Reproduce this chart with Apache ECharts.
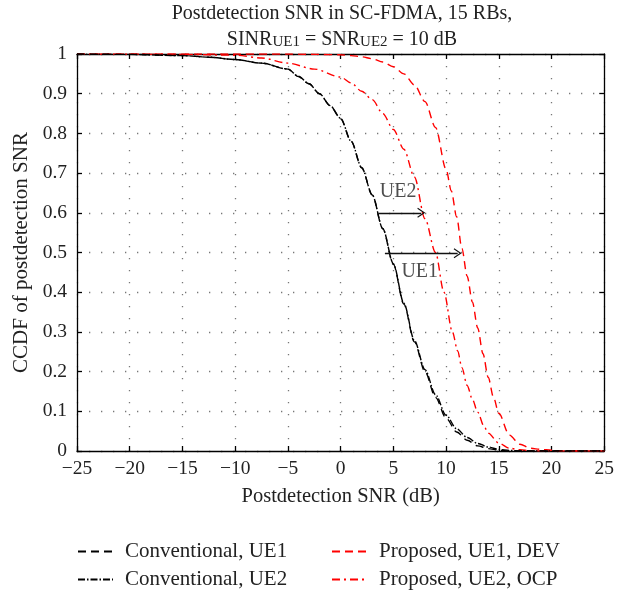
<!DOCTYPE html>
<html>
<head>
<meta charset="utf-8">
<script src="https://cdn.jsdelivr.net/npm/echarts@6/dist/echarts.min.js"></script>
<style>
  html, body { margin: 0; padding: 0; background: #fff; }
  #chart { width: 617px; height: 590px; }
</style>
</head>
<body>
<div id="chart"></div>
<script>
// ---- data ----
var xTicks = [-25, -20, -15, -10, -5, 0, 5, 10, 15, 20, 25];

var convUE1X = [-25, -20, -15, -12.5, -10, -7.5, -5, -4, -3, -2, -1, 0, 1, 2, 3, 4, 5, 6, 7, 8, 9, 10, 11, 12, 13, 14, 15, 16, 25];
var convUE1Y = [1, 0.999, 0.996, 0.992, 0.986, 0.977, 0.962, 0.943, 0.925, 0.9, 0.87, 0.837, 0.78, 0.713, 0.645, 0.56, 0.47, 0.37, 0.275, 0.2, 0.135, 0.083, 0.048, 0.027, 0.013, 0.006, 0.002, 0, 0];

var convUE2X = [-25, -20, -15, -12.5, -10, -7.5, -5, -4, -3, -2, -1, 0, 1, 2, 3, 4, 5, 6, 7, 8, 9, 10, 11, 12, 13, 14, 15, 16, 17, 25];
var convUE2Y = [1, 0.999, 0.996, 0.992, 0.986, 0.977, 0.962, 0.944, 0.925, 0.9, 0.87, 0.838, 0.78, 0.714, 0.645, 0.56, 0.472, 0.372, 0.278, 0.205, 0.142, 0.09, 0.056, 0.034, 0.019, 0.01, 0.004, 0.0015, 0, 0];

var propUE1X = [-25, -10, -5, -2, 0, 1, 2, 3, 4, 5, 6, 7, 8, 9, 10, 10.5, 11, 11.5, 12, 12.5, 13, 13.5, 14, 14.5, 15, 16, 17, 18, 19, 20, 21, 25];
var propUE1Y = [1, 1, 1, 0.999, 0.998, 0.996, 0.993, 0.988, 0.98, 0.968, 0.95, 0.922, 0.88, 0.815, 0.71, 0.655, 0.59, 0.51, 0.44, 0.375, 0.31, 0.245, 0.185, 0.135, 0.095, 0.04, 0.017, 0.007, 0.004, 0.002, 0, 0];

var propUE2X = [-25, -20, -15, -10, -7.5, -5, -2.5, 0, 1, 2, 3, 4, 5, 6, 7, 8, 9, 9.8, 10.6, 11.1, 11.5, 12, 12.5, 13, 13.6, 14, 15, 16, 17, 18, 19, 25];
var propUE2Y = [1, 1, 0.999, 0.997, 0.99, 0.977, 0.962, 0.942, 0.927, 0.906, 0.885, 0.85, 0.81, 0.76, 0.69, 0.585, 0.5, 0.4, 0.3, 0.252, 0.21, 0.165, 0.13, 0.098, 0.062, 0.045, 0.02, 0.007, 0.003, 0.001, 0, 0];

var arrowUE2 = [[3.57, 0.6], [7.65, 0.6]];
var arrowUE1 = [[4.2, 0.498], [11.1, 0.498]];
var notes = [[5.45, 0.652, 'UE2'], [7.5, 0.452, 'UE1']];

var names = ['Conventional, UE1', 'Conventional, UE2', 'Proposed, UE1, DEV', 'Proposed, UE2, OCP'];

// ---- chart ----
var font = "'Liberation Serif', 'DejaVu Serif', serif";
var ink = '#222';

function pairs(xs, ys) {
    return xs.map(function (x, i) { return [x, ys[i]]; });
}

var chart = echarts.init(document.getElementById('chart'));

var dotted = {
    show: true,
    lineStyle: { color: '#777', width: 1.3, type: [1.3, 10.7] }
};

var arrowHead = 'path://M0,10 L5,0 L10,10 L9,10.8 L5,2.8 L1,10.8 Z';

function lineSeries(name, xs, ys, color, dash) {
    return {
        name: name,
        type: 'line',
        data: pairs(xs, ys),
        symbol: 'none',
        showSymbol: false,
        smooth: 0.3,
        smoothMonotone: 'x',
        lineStyle: { color: color, width: 1.4, type: dash },
        itemStyle: { color: color },
        z: 3
    };
}

var s1 = lineSeries(names[0], convUE1X, convUE1Y, '#000', [8, 5]);
var s2 = lineSeries(names[1], convUE2X, convUE2Y, '#000', [7, 2, 1.5, 2]);
var s3 = lineSeries(names[2], propUE1X, propUE1Y, '#ff0000', [8, 5]);
var s4 = lineSeries(names[3], propUE2X, propUE2Y, '#ff0000', [8, 4, 2, 4]);

s1.markLine = {
    silent: true,
    symbol: ['none', arrowHead],
    symbolSize: [10, 8],
    label: { show: false },
    lineStyle: { color: '#111', width: 1.4, type: 'solid' },
    data: [
        [{ coord: arrowUE2[0] }, { coord: arrowUE2[1] }],
        [{ coord: arrowUE1[0] }, { coord: arrowUE1[1] }]
    ]
};

var noteSeries = {
    type: 'scatter',
    data: notes,
    symbolSize: 0,
    silent: true,
    label: {
        show: true,
        position: 'inside',
        formatter: function (p) { return p.value[2]; },
        fontFamily: font,
        fontSize: 20,
        color: ink
    },
    z: 4
};

var legendBase = {
    orient: 'vertical',
    top: 541,
    padding: 0,
    itemWidth: 35,
    itemHeight: 20,
    itemGap: 7,
    selectedMode: false,
    itemStyle: { opacity: 0 },
    textStyle: { fontFamily: font, fontSize: 21, color: ink, padding: [0, 0, 0, 7] }
};

chart.setOption({
    animation: false,
    backgroundColor: '#fff',
    title: {
        text: 'Postdetection SNR in SC-FDMA, 15 RBs,\n{a|SINR}{s|UE1}{a| = SNR}{s|UE2}{a| = 10 dB}',
        left: 342,
        textAlign: 'center',
        top: 2,
        padding: 0,
        textStyle: {
            fontFamily: font,
            fontSize: 20,
            fontWeight: 'normal',
            color: ink,
            lineHeight: 24,
            rich: {
                a: { fontFamily: font, fontSize: 20, color: ink, lineHeight: 24, verticalAlign: 'bottom' },
                s: { fontFamily: font, fontSize: 15, color: ink, lineHeight: 24, verticalAlign: 'bottom' }
            }
        }
    },
    legend: [
        Object.assign({}, legendBase, { left: 77, data: [names[0], names[1]] }),
        Object.assign({}, legendBase, { left: 331, data: [names[2], names[3]] })
    ],
    grid: { left: 77, right: 10, top: 54, bottom: 139 },
    xAxis: [{
        type: 'value',
        min: xTicks[0],
        max: xTicks[xTicks.length - 1],
        interval: 5,
        position: 'bottom',
        name: 'Postdetection SNR (dB)',
        nameLocation: 'middle',
        nameGap: 35,
        nameTextStyle: { fontFamily: font, fontSize: 20.5, color: ink },
        axisLine: { onZero: false, lineStyle: { color: '#000', width: 1.3 } },
        axisTick: { inside: true, length: 5, lineStyle: { color: '#000', width: 1.3 } },
        axisLabel: {
            margin: 8,
            fontFamily: font,
            fontSize: 19.5,
            color: ink,
            formatter: function (v) { return String(v).replace('-', '\u2212'); }
        },
        splitLine: dotted
    }, {
        type: 'value',
        min: xTicks[0],
        max: xTicks[xTicks.length - 1],
        interval: 5,
        position: 'top',
        axisLine: { onZero: false, lineStyle: { color: '#000', width: 1.3 } },
        axisTick: { inside: true, length: 5, lineStyle: { color: '#000', width: 1.3 } },
        axisLabel: { show: false },
        splitLine: { show: false }
    }],
    yAxis: [{
        type: 'value',
        min: 0,
        max: 1,
        interval: 0.1,
        position: 'left',
        name: 'CCDF of postdetection SNR',
        nameLocation: 'middle',
        nameGap: 40,
        nameTextStyle: { fontFamily: font, fontSize: 21, color: ink },
        axisLine: { onZero: false, lineStyle: { color: '#000', width: 1.3 } },
        axisTick: { inside: true, length: 5, lineStyle: { color: '#000', width: 1.3 } },
        axisLabel: {
            margin: 10,
            fontFamily: font,
            fontSize: 19.5,
            color: ink,
            formatter: function (v) { return String(+v.toFixed(1)); }
        },
        splitLine: dotted
    }, {
        type: 'value',
        min: 0,
        max: 1,
        interval: 0.1,
        position: 'right',
        axisLine: { onZero: false, lineStyle: { color: '#000', width: 1.3 } },
        axisTick: { inside: true, length: 5, lineStyle: { color: '#000', width: 1.3 } },
        axisLabel: { show: false },
        splitLine: { show: false }
    }],
    series: [s3, s4, s1, s2, noteSeries]
});
</script>
</body>
</html>
